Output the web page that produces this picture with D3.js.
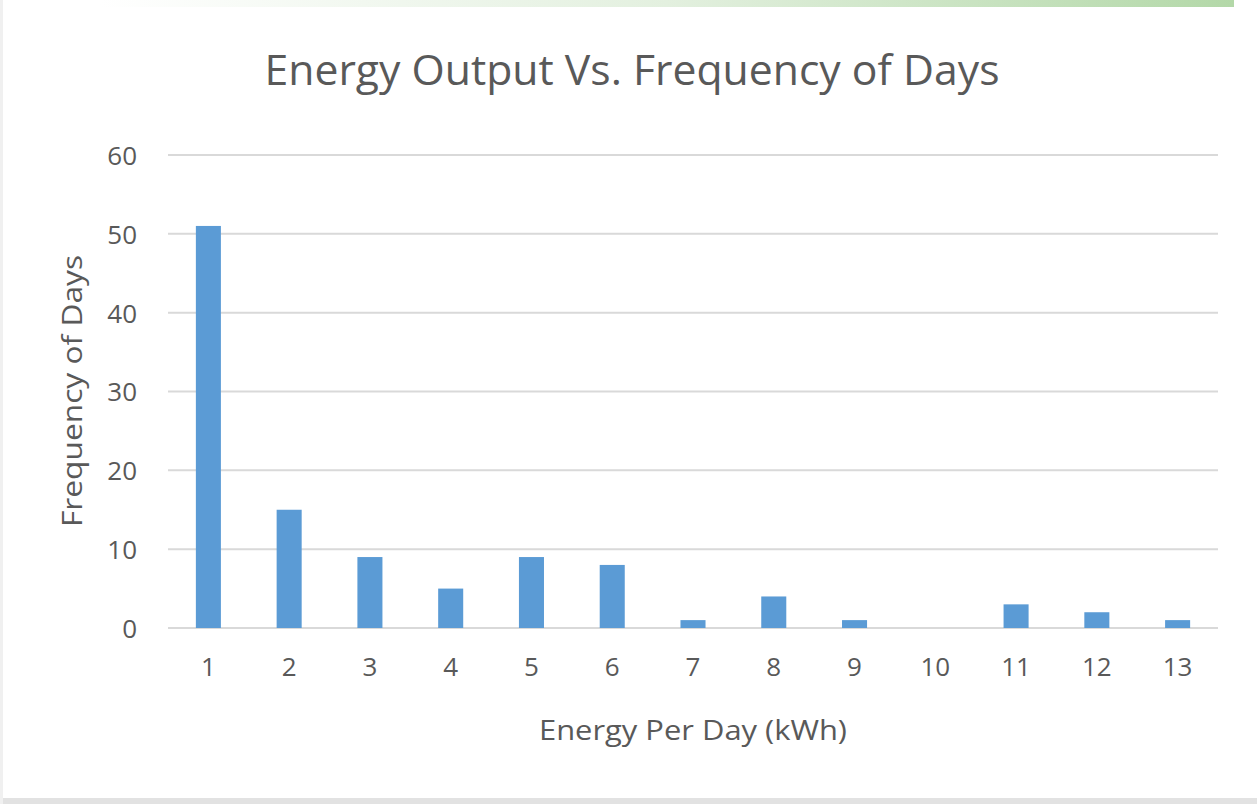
<!DOCTYPE html>
<html>
<head>
<meta charset="utf-8">
<script src="https://cdn.jsdelivr.net/npm/d3@7"></script>
<style>
  html, body { margin: 0; padding: 0; background: #ffffff; }
  svg { display: block; }
</style>
</head>
<body>
<svg id="chart" width="1257" height="804"></svg>
<script>
const categories = ["1","2","3","4","5","6","7","8","9","10","11","12","13"];
const frequencies = [51, 15, 9, 5, 9, 8, 1, 4, 1, 0, 3, 2, 1];
const yTicks = [0, 10, 20, 30, 40, 50, 60];
const titleText = "Energy Output Vs. Frequency of Days";
const xTitle = "Energy Per Day (kWh)";
const yTitle = "Frequency of Days";

const svg = d3.select("#chart");
const W = 1257, H = 804;
const font = "'Open Sans', 'DejaVu Sans', sans-serif";
const textColor = "#595959";

// decorative frame
const defs = svg.append("defs");
const grad = defs.append("linearGradient").attr("id", "topgrad").attr("x1", "0").attr("x2", "1").attr("y1", "0").attr("y2", "0");
grad.append("stop").attr("offset", "0").attr("stop-color", "#ffffff");
grad.append("stop").attr("offset", "0.5").attr("stop-color", "#e3f0df");
grad.append("stop").attr("offset", "1").attr("stop-color", "#b3d8a8");
svg.append("rect").attr("x", 100).attr("y", 0).attr("width", 1134).attr("height", 7).attr("fill", "url(#topgrad)");
svg.append("rect").attr("x", 0).attr("y", 798).attr("width", W).attr("height", 6).attr("fill", "#e2e2e2");
svg.append("rect").attr("x", 0).attr("y", 0).attr("width", 3).attr("height", H).attr("fill", "#f0f0f0");

const margin = { left: 168, right: W - 1218, top: 155, bottom: H - 628 };

const x = d3.scaleBand()
  .domain(categories)
  .range([margin.left, W - margin.right])
  .paddingInner(0.69)
  .paddingOuter(0.345);

const y = d3.scaleLinear()
  .domain([0, 60])
  .range([H - margin.bottom, margin.top]);

// gridlines
svg.append("g")
  .selectAll("line")
  .data(yTicks)
  .join("line")
  .attr("x1", margin.left)
  .attr("x2", W - margin.right)
  .attr("y1", d => y(d))
  .attr("y2", d => y(d))
  .attr("stroke", "#d9d9d9")
  .attr("stroke-width", 2);

// bars
svg.append("g")
  .selectAll("rect")
  .data(frequencies)
  .join("rect")
  .attr("x", (d, i) => x(categories[i]))
  .attr("width", x.bandwidth())
  .attr("y", d => y(d))
  .attr("height", d => y(0) - y(d))
  .attr("fill", "#5b9bd5");

// y axis labels
const yAxis = d3.axisLeft(y).tickValues(yTicks).tickSize(0).tickPadding(0);
const gy = svg.append("g").attr("transform", `translate(${margin.left - 31},0)`).call(yAxis);
gy.select(".domain").remove();
gy.selectAll("text")
  .attr("font-family", font)
  .attr("font-size", 26)
  .attr("fill", textColor)
  .attr("dy", "0.36em");

// x axis labels
const xAxis = d3.axisBottom(x).tickSize(0).tickPadding(0);
const gx = svg.append("g").attr("transform", `translate(0,${y(0) + 35})`).call(xAxis);
gx.select(".domain").remove();
gx.selectAll("text")
  .attr("font-family", font)
  .attr("font-size", 26)
  .attr("fill", textColor)
  .attr("dy", "0.5em");

// title
svg.append("text")
  .attr("x", 632)
  .attr("y", 85)
  .attr("text-anchor", "middle")
  .attr("font-family", font)
  .attr("font-size", 42)
  .attr("fill", textColor)
  .attr("textLength", 735)
  .attr("lengthAdjust", "spacingAndGlyphs")
  .text(titleText);

// x title
svg.append("text")
  .attr("x", 693)
  .attr("y", 740)
  .attr("text-anchor", "middle")
  .attr("font-family", font)
  .attr("font-size", 27)
  .attr("fill", textColor)
  .attr("textLength", 308)
  .attr("lengthAdjust", "spacingAndGlyphs")
  .text(xTitle);

// y title
svg.append("text")
  .attr("transform", `translate(82,391) rotate(-90)`)
  .attr("text-anchor", "middle")
  .attr("font-family", font)
  .attr("font-size", 27)
  .attr("fill", textColor)
  .attr("textLength", 272)
  .attr("lengthAdjust", "spacingAndGlyphs")
  .text(yTitle);
</script>
</body>
</html>
